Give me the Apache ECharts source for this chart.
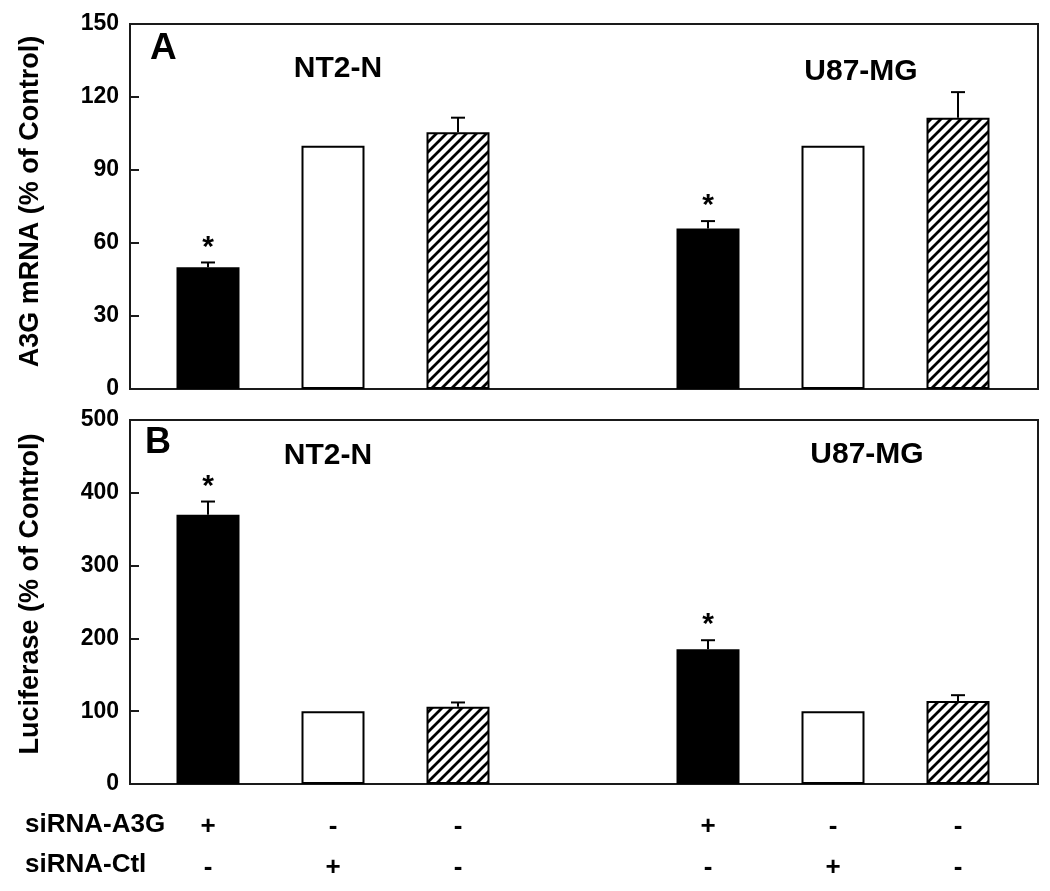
<!DOCTYPE html>
<html>
<head>
<meta charset="utf-8">
<script src="https://cdn.jsdelivr.net/npm/echarts@6/dist/echarts.min.js"></script>
<style>
html,body{margin:0;padding:0;background:#fff;}
#chart{width:1050px;height:891px;}
</style>
</head>
<body>
<div id="chart"></div>
<script>
// ---- data ----
const cellLines = ['NT2-N', 'U87-MG'];
const treatments = ['siRNA-A3G', 'siRNA-Ctl', 'none'];
const mrnaValues = [50, 100, 105.5, 66, 100, 111.5];
const mrnaErrors = [2, 0, 6, 3, 0, 10.5];
const lucValues = [370, 100, 106, 185, 100, 114];
const lucErrors = [18, 0, 6, 12.5, 0, 8];
const significant = [true, false, false, true, false, false];
const rowA3G = ['+', '-', '-', '+', '-', '-'];
const rowCtl = ['-', '+', '-', '-', '+', '-'];
const rowLabels = ['siRNA-A3G', 'siRNA-Ctl'];
const axisTitles = ['A3G mRNA (% of Control)', 'Luciferase (% of Control)'];
const panelLetters = ['A', 'B'];

// ---- layout helpers ----
const FONT = '"Liberation Sans", Arial, Helvetica, sans-serif';
const nT = treatments.length;
const slotPos = (i) => Math.floor(i / nT) * (nT + 1) + (i % nT); // gap slot between cell lines
const positions = mrnaValues.map((_, i) => slotPos(i));

// hatch pattern
const hatch = document.createElement('canvas');
hatch.width = 10; hatch.height = 10;
(function () {
  const c = hatch.getContext('2d');
  c.fillStyle = '#fff'; c.fillRect(0, 0, 10, 10);
  c.strokeStyle = '#000'; c.lineWidth = 2.8; c.lineCap = 'square';
  c.beginPath();
  c.moveTo(-1, 11); c.lineTo(11, -1);
  c.moveTo(-1, 1); c.lineTo(1, -1);
  c.moveTo(9, 11); c.lineTo(11, 9);
  c.stroke();
})();
const fills = ['#000', '#fff', { image: hatch, repeat: 'repeat' }];

const xMin = -0.624, xMax = 6.64;

function barData(vals) {
  return vals.map((v, i) => ({
    value: [positions[i], v],
    itemStyle: { color: fills[i % nT], borderColor: '#000', borderWidth: 2 }
  }));
}
function errData(vals, errs) {
  return vals.map((v, i) => [positions[i], v, errs[i], significant[i] ? 1 : 0]);
}
function renderErr(params, api) {
  const x = api.value(0), v = api.value(1), e = api.value(2), s = api.value(3);
  const p0 = api.coord([x, v]);
  const p1 = api.coord([x, v + e]);
  const children = [];
  if (e > 0) {
    children.push({ type: 'line', shape: { x1: p0[0], y1: p0[1], x2: p1[0], y2: p1[1] }, style: { stroke: '#000', lineWidth: 2 } });
    children.push({ type: 'line', shape: { x1: p1[0] - 7, y1: p1[1], x2: p1[0] + 7, y2: p1[1] }, style: { stroke: '#000', lineWidth: 2 } });
  }
  if (s) {
    children.push({ type: 'text', x: p1[0], y: p1[1] - 15, style: { text: '*', font: 'bold 30px ' + FONT, fill: '#000', align: 'center', verticalAlign: 'middle' } });
  }
  return { type: 'group', children };
}

const grids = [
  { left: 130, top: 24, width: 908, height: 365 },
  { left: 130, top: 420, width: 908, height: 364 }
];
const namePads = [[0, 0, 0, 10], [0, 0, 0, 16]];

const option = {
  animation: false,
  backgroundColor: '#fff',
  grid: grids.map(g => Object.assign({ show: true, borderColor: '#1a1a1a', borderWidth: 2, backgroundColor: 'transparent' }, g)),
  xAxis: [0, 1].map(k => ({
    type: 'value', gridIndex: k, min: xMin, max: xMax,
    splitLine: { show: false }, axisLine: { show: false, onZero: false }, axisTick: { show: false },
    axisLabel: k === 0 ? { show: false } : {
      show: true, customValues: positions, margin: 22,
      formatter: (val) => {
        const i = positions.indexOf(Math.round(val));
        return i < 0 ? '' : '{r|' + rowA3G[i] + '}\n{r|' + rowCtl[i] + '}';
      },
      rich: { r: { fontFamily: FONT, fontWeight: 'bold', fontSize: 26, lineHeight: 41, color: '#000' } }
    }
  })),
  yAxis: [
    { max: 150, interval: 30 },
    { max: 500, interval: 100 }
  ].map((a, k) => ({
    type: 'value', gridIndex: k, min: 0, max: a.max, interval: a.interval,
    name: axisTitles[k], nameLocation: 'middle', nameGap: 86,
    nameTextStyle: { fontFamily: FONT, fontWeight: 'bold', fontSize: 27, color: '#000', padding: namePads[k] },
    splitLine: { show: false },
    axisLine: { show: false, onZero: false },
    axisTick: { show: true, inside: true, length: 9, lineStyle: { color: '#1a1a1a', width: 2 } },
    axisLabel: { fontFamily: FONT, fontWeight: 'bold', fontSize: 23, color: '#000', margin: 11 }
  })),
  series: [
    { type: 'bar', xAxisIndex: 0, yAxisIndex: 0, barWidth: 63, data: barData(mrnaValues), z: 2 },
    { type: 'bar', xAxisIndex: 1, yAxisIndex: 1, barWidth: 63, data: barData(lucValues), z: 2 },
    { type: 'custom', xAxisIndex: 0, yAxisIndex: 0, clip: false, renderItem: renderErr, data: errData(mrnaValues, mrnaErrors), z: 3 },
    { type: 'custom', xAxisIndex: 1, yAxisIndex: 1, clip: false, renderItem: renderErr, data: errData(lucValues, lucErrors), z: 3 }
  ],
  graphic: [
    { type: 'text', left: 150, top: 30, style: { text: panelLetters[0], font: 'bold 37px ' + FONT, fill: '#000' } },
    { type: 'text', left: 145, top: 425, style: { text: panelLetters[1], font: 'bold 36px ' + FONT, fill: '#000' } },
    { type: 'text', x: 338, y: 69, style: { text: cellLines[0], font: 'bold 30px ' + FONT, fill: '#000', align: 'center', verticalAlign: 'middle' } },
    { type: 'text', x: 861, y: 72, style: { text: cellLines[1], font: 'bold 30px ' + FONT, fill: '#000', align: 'center', verticalAlign: 'middle' } },
    { type: 'text', x: 328, y: 456, style: { text: cellLines[0], font: 'bold 30px ' + FONT, fill: '#000', align: 'center', verticalAlign: 'middle' } },
    { type: 'text', x: 867, y: 455, style: { text: cellLines[1], font: 'bold 30px ' + FONT, fill: '#000', align: 'center', verticalAlign: 'middle' } },
    { type: 'text', x: 25, y: 825, style: { text: rowLabels[0], font: 'bold 26px ' + FONT, fill: '#000', align: 'left', verticalAlign: 'middle' } },
    { type: 'text', x: 25, y: 865, style: { text: rowLabels[1], font: 'bold 26px ' + FONT, fill: '#000', align: 'left', verticalAlign: 'middle' } }
  ]
};

const chart = echarts.init(document.getElementById('chart'), null, { renderer: 'canvas' });
chart.setOption(option);
</script>
</body>
</html>
